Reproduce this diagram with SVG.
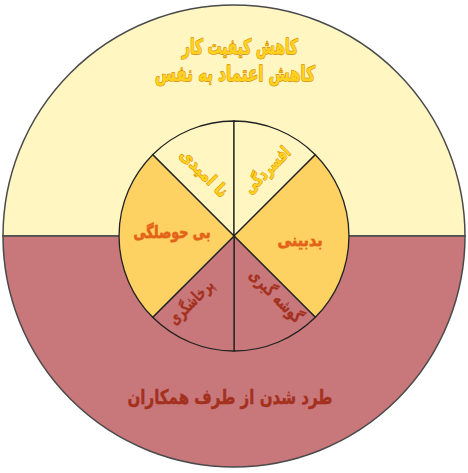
<svg xmlns="http://www.w3.org/2000/svg" width="468" height="473" viewBox="0 0 468 473">
<style>
.pale{fill:#FFF6C1;}
.pink{fill:#C8777A;}
.gold{fill:#FDD263;}
.outer{stroke:#4a4a4a;stroke-width:1.5;}
.sec{stroke:#222;stroke-width:1.3;}
text{font-family:"DejaVu Sans","Noto Sans",sans-serif;font-weight:bold;text-anchor:middle;direction:rtl;paint-order:stroke;stroke-linejoin:round;}
.ty{fill:#FFD21E;stroke:#D98A00;stroke-width:1.3;font-size:21px;}
.tyi{fill:#FFD21E;stroke:#D98A00;stroke-width:1.1;font-size:17px;}
.to{fill:#E2621C;stroke:#EE8A2A;stroke-width:1.1;font-size:17px;}
.tr{fill:#A4301E;stroke:#A4301E;stroke-width:0.4;font-size:20px;}
.tri{fill:#A4301E;stroke:#A4301E;stroke-width:0.3;font-size:17px;}
</style>
<g id="outer-top"><path class="pale outer" d="M3,236 A231,231 0 0 1 465,236 Z"/></g>
<g id="outer-bottom"><path class="pink outer" d="M465,236 A231,231 0 0 1 3,236 Z"/></g>
<g id="sector-tl"><path class="pale sec" d="M234,236 L152.7,154.7 A115,115 0 0 1 234,121 Z"/></g>
<g id="sector-tr"><path class="pale sec" d="M234,236 L234,121 A115,115 0 0 1 315.3,154.7 Z"/></g>
<g id="sector-r"><path class="gold sec" d="M234,236 L315.3,154.7 A115,115 0 0 1 315.3,317.3 Z"/></g>
<g id="sector-br"><path class="pink sec" d="M234,236 L315.3,317.3 A115,115 0 0 1 234,351 Z"/></g>
<g id="sector-bl"><path class="pink sec" d="M234,236 L234,351 A115,115 0 0 1 152.7,317.3 Z"/></g>
<g id="sector-l"><path class="gold sec" d="M234,236 L152.7,317.3 A115,115 0 0 1 152.7,154.7 Z"/></g>
<g id="connectors"></g>
<g id="labels">
<text class="ty" x="240" y="54" textLength="116" lengthAdjust="spacingAndGlyphs">کاهش کیفیت کار</text>
<text class="ty" x="235" y="81" textLength="160" lengthAdjust="spacingAndGlyphs">کاهش اعتماد به نفس</text>
<text class="tr" x="230" y="404" textLength="205" lengthAdjust="spacingAndGlyphs">طرد شدن از طرف همکاران</text>
<text class="tyi" transform="translate(200,177) rotate(45)" x="0" y="0" textLength="60" lengthAdjust="spacingAndGlyphs">نا امیدی</text>
<text class="tyi" transform="translate(271,174) rotate(-45)" x="0" y="0" textLength="58" lengthAdjust="spacingAndGlyphs">افسردگی</text>
<text class="to" x="172" y="238" textLength="77" lengthAdjust="spacingAndGlyphs">بی حوصلگی</text>
<text class="to" x="300" y="246" textLength="45" lengthAdjust="spacingAndGlyphs">بدبینی</text>
<text class="tri" transform="translate(195,306) rotate(-45)" x="0" y="0" textLength="56" lengthAdjust="spacingAndGlyphs">پرخاشگری</text>
<text class="tri" transform="translate(272,300) rotate(45)" x="0" y="0" textLength="68" lengthAdjust="spacingAndGlyphs">گوشه گیری</text>
</g>
</svg>
